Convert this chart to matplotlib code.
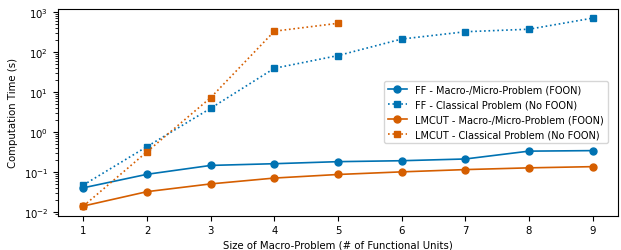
import matplotlib
matplotlib.use('Agg')
import matplotlib.pyplot as plt

# sizes of the macro-problem (# functional units)
sizes = [1, 2, 3, 4, 5, 6, 7, 8, 9]
lmcut_classical_sizes = [1, 2, 3, 4, 5]

# computation times (s)
ff_macro = [0.040, 0.087, 0.145, 0.16, 0.18, 0.19, 0.21, 0.33, 0.34]
ff_classical = [0.047, 0.43, 3.9, 39, 81, 210, 320, 370, 700]
lmcut_macro = [0.014, 0.032, 0.050, 0.070, 0.086, 0.100, 0.114, 0.126, 0.135]
lmcut_classical = [0.014, 0.32, 7.2, 330, 520]

blue = '#0072b2'
orange = '#d55e00'

plt.rcParams['font.size'] = 7.3

fig = plt.figure(figsize=(6.21, 2.51), dpi=100)
ax = fig.add_axes([58/621, 1 - 216.5/251, 560/621, 207/251])

ax.plot(sizes, ff_macro, color=blue, marker='o', markersize=5, linewidth=1.2,
        label='FF - Macro-/Micro-Problem (FOON)')
ax.plot(sizes, ff_classical, color=blue, marker='s', markersize=5, linewidth=1.2,
        linestyle=':', label='FF - Classical Problem (No FOON)')
ax.plot(sizes, lmcut_macro, color=orange, marker='o', markersize=5, linewidth=1.2,
        label='LMCUT - Macro-/Micro-Problem (FOON)')
ax.plot(lmcut_classical_sizes, lmcut_classical, color=orange, marker='s', markersize=5,
        linewidth=1.2, linestyle=':', label='LMCUT - Classical Problem (No FOON)')

ax.set_yscale('log')
ax.set_ylim(0.0081, 1220)
ax.set_xlim(0.6, 9.4)
ax.set_xticks(sizes)
ax.set_xlabel('Size of Macro-Problem (# of Functional Units)', labelpad=3)
ax.set_ylabel('Computation Time (s)')
ax.legend(loc='center right', bbox_to_anchor=(0.99, 0.5), fontsize=7)

fig.savefig('out.png', dpi=100)
